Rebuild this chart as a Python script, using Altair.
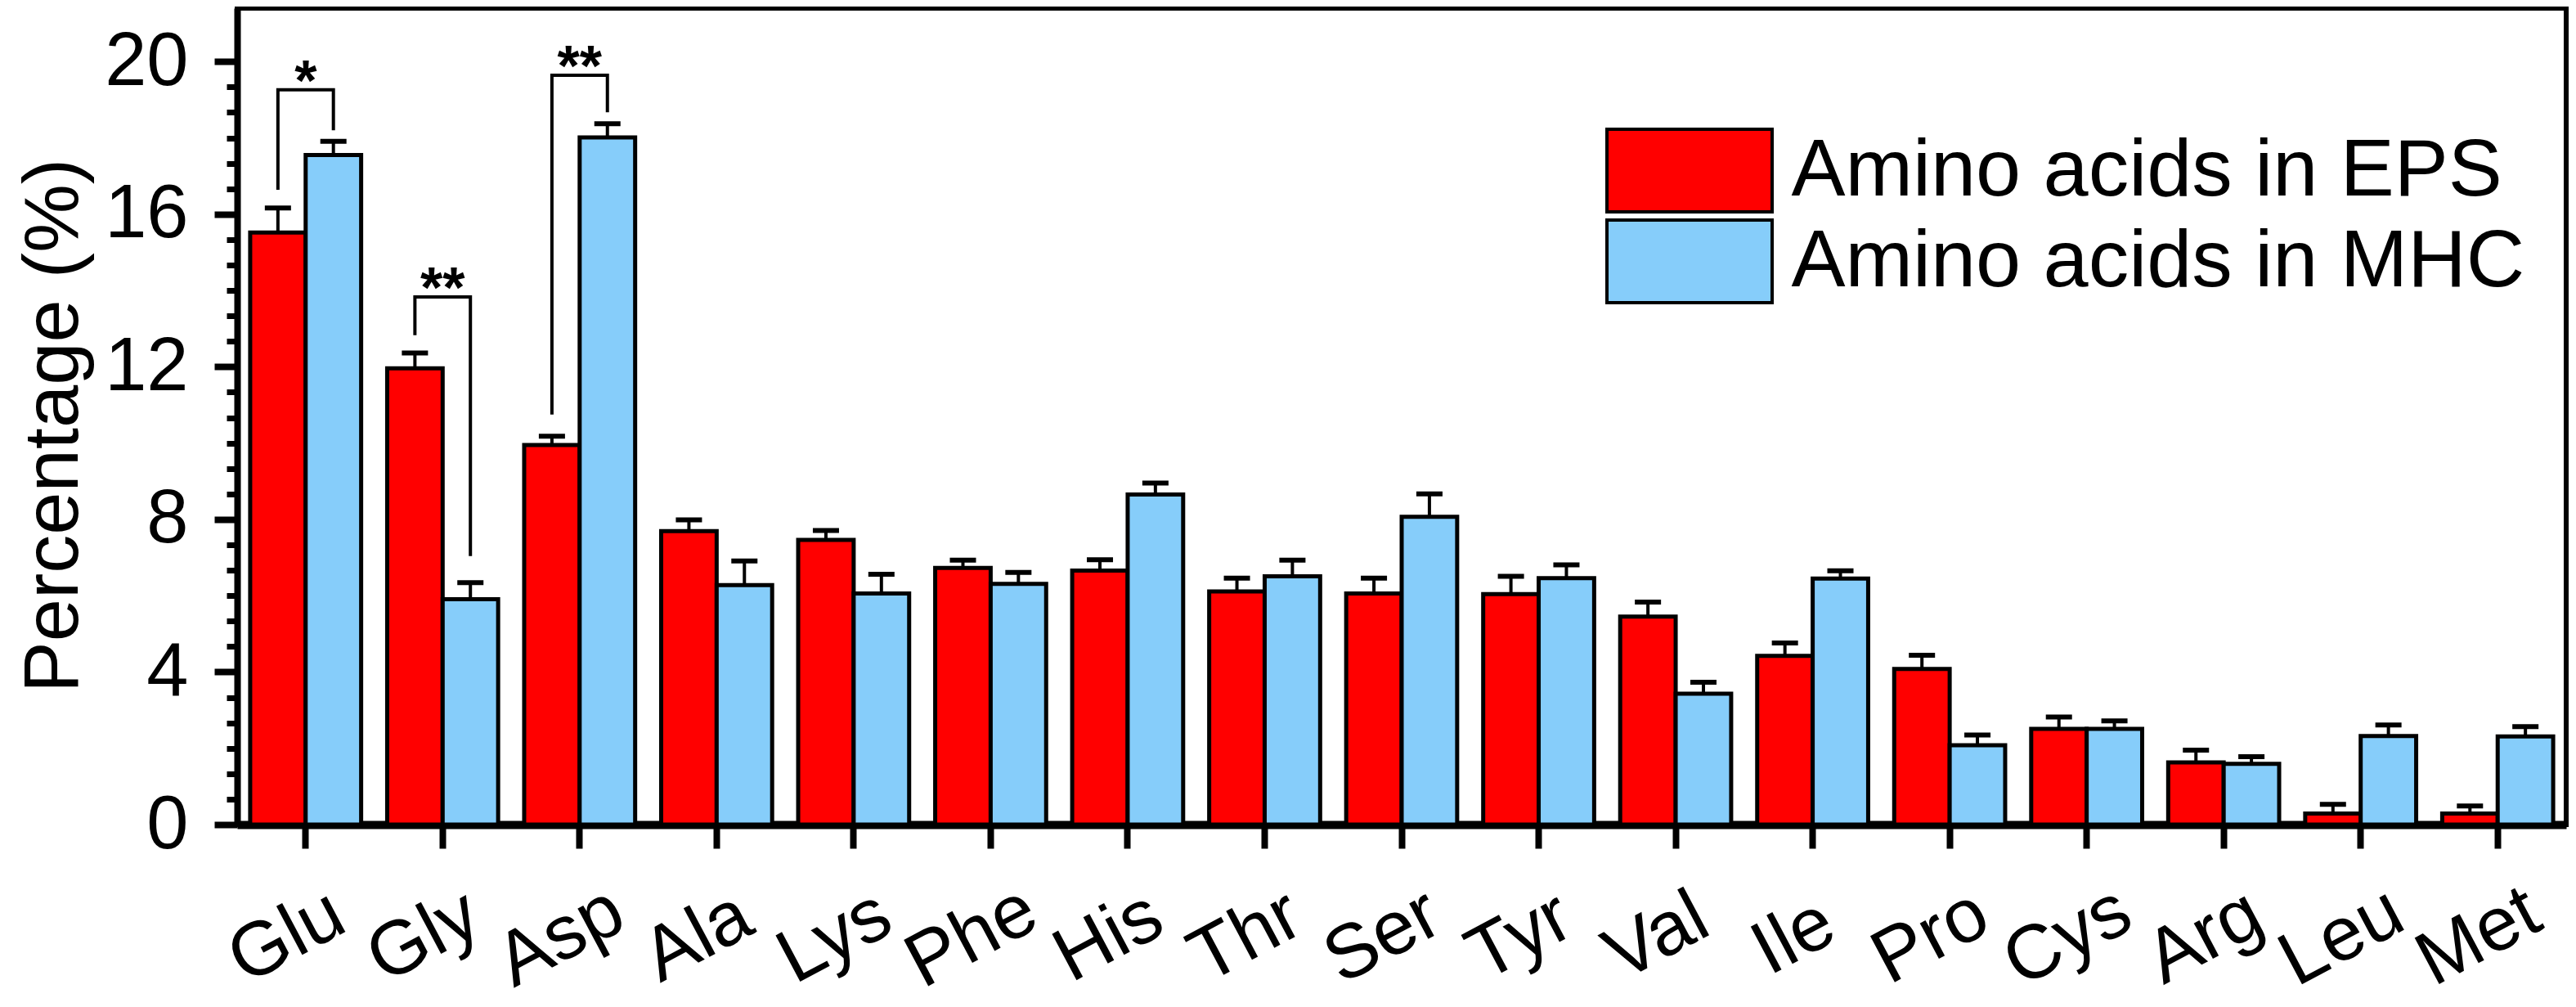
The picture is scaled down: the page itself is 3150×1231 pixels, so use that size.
import altair as alt
import pandas as pd

categories = ["Glu", "Gly", "Asp", "Ala", "Lys", "Phe", "His", "Thr", "Ser",
              "Tyr", "Val", "Ile", "Pro", "Cys", "Arg", "Leu", "Met"]
series = ["Amino acids in EPS", "Amino acids in MHC"]
eps = [15.52, 11.96, 9.95, 7.69, 7.46, 6.73, 6.66, 6.11, 6.06, 6.04, 5.45, 4.42, 4.08, 2.51, 1.63, 0.29, 0.29]
eps_err = [0.64, 0.40, 0.23, 0.30, 0.25, 0.20, 0.28, 0.35, 0.40, 0.47, 0.38, 0.34, 0.36, 0.31, 0.32, 0.24, 0.20]
mhc = [17.55, 5.91, 18.01, 6.28, 6.06, 6.31, 8.65, 6.51, 8.07, 6.46, 3.43, 6.45, 2.08, 2.51, 1.59, 2.32, 2.31]
mhc_err = [0.36, 0.43, 0.36, 0.63, 0.50, 0.30, 0.30, 0.42, 0.60, 0.35, 0.30, 0.20, 0.27, 0.21, 0.19, 0.29, 0.26]

# significance brackets: category, left leg bottom, bracket top, right leg bottom, label
sig_cats = ["Glu", "Gly", "Asp"]
sig_left = [16.64, 12.83, 10.75]
sig_top = [19.26, 13.83, 19.64]
sig_right = [18.20, 7.04, 18.67]
sig_text = ["*", "**", "**"]

y_major = [0, 4, 8, 12, 16, 20]
y_minor = [0.667, 1.333, 2.0, 2.667, 3.333, 4.667, 5.333, 6.0, 6.667, 7.333,
           8.667, 9.333, 10.0, 10.667, 11.333, 12.667, 13.333, 14.0, 14.667, 15.333,
           16.667, 17.333, 18.0, 18.667, 19.333]

rows = []
for i, c in enumerate(categories):
    rows.append({"aa": c, "series": series[0], "value": eps[i], "upper": eps[i] + eps_err[i]})
    rows.append({"aa": c, "series": series[1], "value": mhc[i], "upper": mhc[i] + mhc_err[i]})
df = pd.DataFrame(rows)

brows = []
for i, c in enumerate(sig_cats):
    brows.append({"aa": c, "series": series[0], "y": sig_left[i], "o": 1})
    brows.append({"aa": c, "series": series[0], "y": sig_top[i], "o": 2})
    brows.append({"aa": c, "series": series[1], "y": sig_top[i], "o": 3})
    brows.append({"aa": c, "series": series[1], "y": sig_right[i], "o": 4})
bdf = pd.DataFrame(brows)
sdf = pd.DataFrame({"aa": sig_cats, "y": sig_top, "t": sig_text})
mdf = pd.DataFrame({"m": y_minor})

FONT = "Liberation Sans"
RED = "#FF0000"
BLUE = "#86CDFA"

yscale = alt.Scale(domain=[0, 21.4], nice=False, zero=True)
xscale = alt.Scale(paddingInner=0.19, paddingOuter=0.095)
oscale = alt.Scale(paddingInner=0, paddingOuter=0)

x_axis = alt.Axis(title=None, labelAngle=332, labelAlign="center", labelBaseline="middle",
                  labelFontSize=93, labelFont=FONT, labelColor="black", labelPadding=108,
                  labelOffset=-23, labelOverlap=False, labelFlush=False, labelBound=False,
                  tickSize=29, tickWidth=8, tickColor="black",
                  domainWidth=10, domainColor="black", grid=False, orient="bottom")
y_axis = alt.Axis(values=y_major, title="Percentage (%)", titleFontSize=94, titleFont=FONT,
                  titleFontWeight="normal", titleColor="black", titleAngle=270,
                  titleX=-196, titleY=510, titleBaseline="alphabetic", titleAlign="center",
                  labelFontSize=92, labelFont=FONT, labelColor="black", labelPadding=32,
                  tickSize=28, tickWidth=8, tickColor="black", domainWidth=8,
                  domainColor="black", grid=False, orient="left")
minor_axis = alt.Axis(values=y_minor, title=None, labels=False, domain=False, grid=False,
                      tickSize=13, tickWidth=7, tickColor="black", orient="left")

X = alt.X("aa:N", sort=categories, scale=xscale, axis=x_axis)
Xn = alt.X("aa:N", sort=categories, scale=xscale, axis=None)
XO = alt.XOffset("series:N", sort=series, scale=oscale)

bars = alt.Chart(df).mark_bar(stroke="black", strokeWidth=5, opacity=1).encode(
    x=X, xOffset=XO,
    y=alt.Y("value:Q", scale=yscale, axis=y_axis),
    color=alt.Color("series:N", sort=series,
                    scale=alt.Scale(domain=series, range=[RED, BLUE]),
                    legend=alt.Legend(title=None, orient="none", legendX=1675, legendY=146,
                                      symbolType="M-2,-1H2V1H-2Z", symbolSize=10201,
                                      symbolStrokeColor="black", symbolStrokeWidth=4,
                                      symbolOffset=48.5, symbolOpacity=1,
                                      labelOffset=72, labelFontSize=99, labelFont=FONT,
                                      labelColor="black", labelLimit=0, rowPadding=-6,
                                      padding=0)),
)

err = alt.Chart(df).mark_rule(color="black", strokeWidth=4).encode(
    x=Xn, xOffset=XO,
    y=alt.Y("value:Q", scale=yscale, axis=None), y2="upper:Q",
)
caps = alt.Chart(df).mark_tick(color="black", thickness=6, size=32, orient="horizontal", opacity=1).encode(
    x=Xn, xOffset=XO,
    y=alt.Y("upper:Q", scale=yscale, axis=None),
)
brackets = alt.Chart(bdf).mark_line(color="black", strokeWidth=4).encode(
    x=Xn, xOffset=XO,
    y=alt.Y("y:Q", scale=yscale, axis=None),
    detail="aa:N", order="o:Q",
)
stars = alt.Chart(sdf).mark_text(fontSize=70, font=FONT, fontWeight="bold", color="black",
                                 baseline="alphabetic", align="center", dy=13).encode(
    x=Xn,
    y=alt.Y("y:Q", scale=yscale, axis=None),
    text="t:N",
)
minor = alt.Chart(mdf).mark_point(opacity=0).encode(
    y=alt.Y("m:Q", scale=yscale, axis=minor_axis),
)

chart = alt.layer(bars, err, caps, brackets, stars, minor).resolve_axis(
    x="independent", y="independent"
).properties(
    width=2848, height=998,
    autosize=alt.AutoSizeParams(type="none"),
    padding={"left": 282, "top": 2, "right": 4, "bottom": 222},
).configure(font=FONT).configure_view(stroke="black", strokeWidth=6)

chart.save("out.html", embed_options={"renderer": "svg", "actions": False})
